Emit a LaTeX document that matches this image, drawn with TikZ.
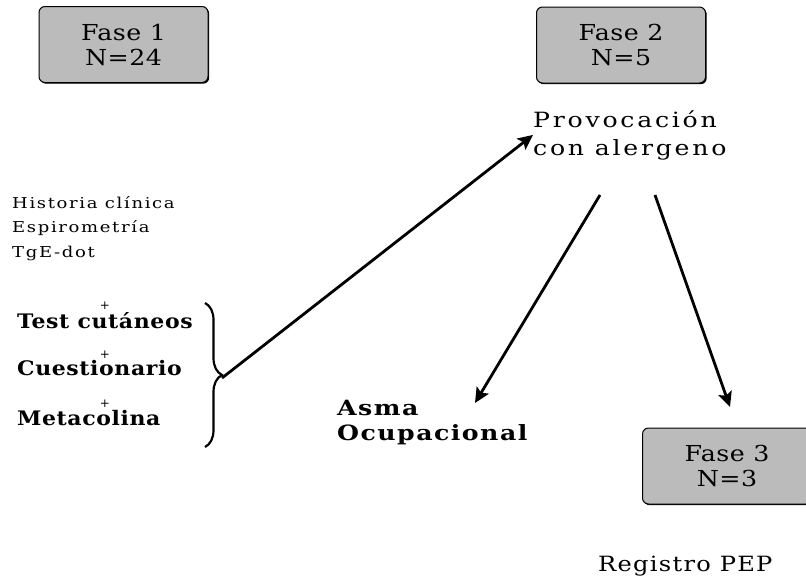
\documentclass[tikz,border=0pt]{standalone}
\usepackage{fontspec}
\setmainfont{DejaVu Serif}
\usetikzlibrary{arrows.meta,decorations.pathreplacing,shadows}
\definecolor{cbbbbbb}{RGB}{187,187,187}

\begin{document}
\begin{tikzpicture}[x=1pt,y=-1pt]

\clip (0,0) rectangle (806,579);

% fases
\begin{scope}[every node/.style={draw,rounded corners=6pt,line width=1pt,fill=cbbbbbb,minimum width=169,minimum height=76,align=center,inner sep=0pt,font=\fontsize{22}{25}\selectfont\addfontfeature{FakeStretch=1.15,LetterSpace=2},drop shadow={shadow xshift=1.2pt,shadow yshift=-1.2pt,fill=black,opacity=1}}]
\node (f1) at (123.5,44.5) {Fase 1\\N=24};
\node (f2) at (621,45) {Fase 2\\N=5};
\node (f3) at (727,466) {Fase 3\\N=3};
\end{scope}

% textos
\begin{scope}[every node/.style={anchor=north west,align=left,inner sep=0pt}]
\node[font=\fontsize{21}{28}\selectfont\addfontfeature{FakeStretch=1.2,LetterSpace=13}] (prov) at (533,110) {Provocación\\con alergeno};
\node[font=\fontsize{15}{24.5}\selectfont\addfontfeature{FakeStretch=1.2,LetterSpace=11}] (hist) at (12,196) {Historia clínica\\Espirometría\\TgE-dot};
\node[font=\bfseries\fontsize{20}{25}\selectfont\addfontfeature{FakeStretch=1.1,LetterSpace=3}] (test) at (17,312) {Test cutáneos};
\node[font=\bfseries\fontsize{20}{25}\selectfont\addfontfeature{FakeStretch=1.1,LetterSpace=3}] (cuest) at (17,360) {Cuestionario};
\node[font=\bfseries\fontsize{20}{25}\selectfont\addfontfeature{FakeStretch=1.1,LetterSpace=3}] (meta) at (17,410) {Metacolina};
\node[font=\bfseries\fontsize{21}{25}\selectfont\addfontfeature{FakeStretch=1.2,LetterSpace=7}] (asma) at (337,400) {Asma\\Ocupacional};
\node[font=\fontsize{21}{25}\selectfont\addfontfeature{FakeStretch=1.15,LetterSpace=6}] (reg) at (598,556) {Registro PEP};
\end{scope}

\begin{scope}[every node/.style={inner sep=0pt,font=\fontsize{12}{12}\selectfont}]
\node (m1) at (105,306) {+};
\node (m2) at (105,355) {+};
\node (m3) at (105,404) {+};
\end{scope}

% llave
\draw[line width=2.2pt,decorate,decoration={brace,amplitude=17pt}] (205,303) -- (205,447);
\coordinate (punta) at (222,378);
\coordinate (d1) at (600,195);
\coordinate (d2) at (655,195);
\coordinate (e1) at (475,403);
\coordinate (e2) at (730,407);

\begin{scope}[line width=2.8pt,-{Stealth[length=15pt,width=14pt,inset=3pt]}]
\draw (punta) to (prov.west);
\draw (d1) to (e1);
\draw (d2) to (e2);
\end{scope}

\end{tikzpicture}
\end{document}
